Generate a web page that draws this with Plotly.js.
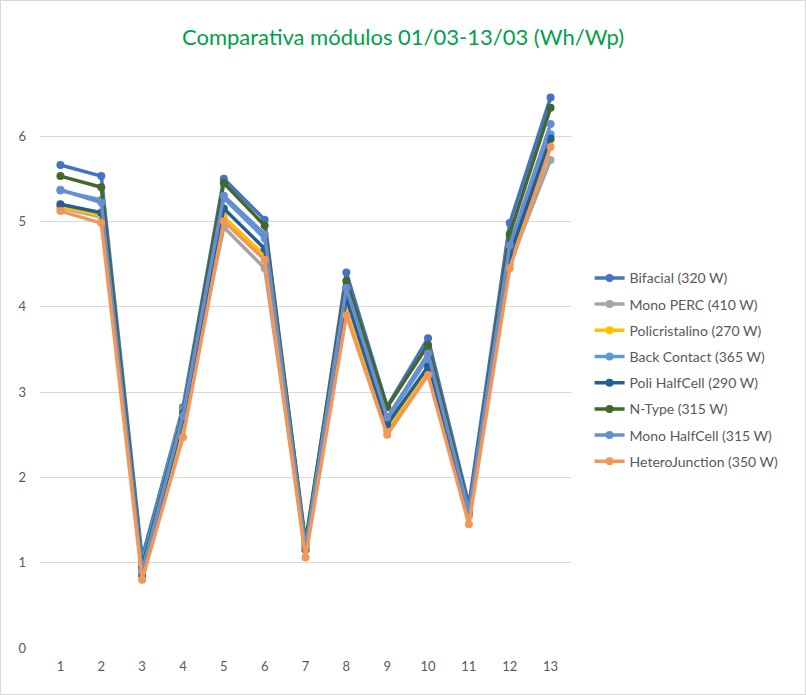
<!DOCTYPE html>
<html><head><meta charset="utf-8">
<script src="https://cdn.plot.ly/plotly-3.0.1.min.js"></script>
<style>body{margin:0;background:#fff}#wrap{position:relative;width:806px;height:695px}#chart{width:806px;height:695px}#frame{position:absolute;left:0;top:0;width:804px;height:693px;border:1px solid #d9d9d9;pointer-events:none}</style>
</head><body><div id="wrap"><div id="chart"></div><div id="frame"></div></div>
<script>
const days = [1,2,3,4,5,6,7,8,9,10,11,12,13];
const names = ["Bifacial (320 W)","Mono PERC (410 W)","Policristalino (270 W)","Back Contact (365 W)","Poli HalfCell (290 W)","N-Type (315 W)","Mono HalfCell (315 W)","HeteroJunction (350 W)"];
const bifacial      = [5.66,5.53,1.06,2.82,5.50,5.02,1.20,4.40,2.83,3.63,1.68,4.98,6.45];
const monoPerc      = [5.16,5.05,0.95,2.65,4.93,4.45,1.15,3.92,2.55,3.25,1.55,4.50,5.72];
const policristal   = [5.17,5.07,0.90,2.62,5.05,4.60,1.15,3.95,2.58,3.25,1.55,4.55,5.95];
const backContact   = [5.36,5.25,1.00,2.80,5.27,4.80,1.22,4.18,2.68,3.40,1.60,4.65,6.02];
const poliHalfCell  = [5.20,5.10,0.85,2.68,5.15,4.68,1.15,4.10,2.62,3.30,1.58,4.60,5.97];
const nType         = [5.53,5.40,0.95,2.75,5.45,4.95,1.25,4.30,2.82,3.55,1.62,4.85,6.33];
const monoHalfCell  = [5.37,5.22,0.90,2.72,5.30,4.85,1.18,4.22,2.70,3.45,1.60,4.72,6.14];
const heteroJunc    = [5.12,4.98,0.80,2.47,5.00,4.55,1.06,3.90,2.50,3.20,1.45,4.45,5.87];
const series = [bifacial,monoPerc,policristal,backContact,poliHalfCell,nType,monoHalfCell,heteroJunc];
const colors = ["#4472C4","#A5A5A5","#FFC000","#5B9BD5","#255E91","#43682B","#698ED0","#F1975A"];
const yTicks = [0,1,2,3,4,5,6];

const traces = series.map((s,i)=>({
  x: days, y: s, name: names[i], type:'scatter', mode:'lines+markers',
  line:{color:colors[i], width:3.5}, marker:{color:colors[i], size:8},
  legendgroup:'g'+i
}));

const layout = {
  width:806, height:695,
  paper_bgcolor:'#fff', plot_bgcolor:'#fff',
  margin:{l:40,r:235,t:68,b:47},
  font:{family:'Lato, "Open Sans", sans-serif', color:'#595959', size:13},
  title:{text:'Comparativa módulos 01/03-13/03 (Wh/Wp)', font:{family:'Lato, sans-serif', size:22, color:'#00A04A'}, x:0.5, xanchor:'center', xref:'container', y:37, yref:'container', yanchor:'middle'},
  xaxis:{range:[0.5,13.5], tickvals:days, ticktext:days.map(String), showgrid:false, zeroline:false, showline:false, ticks:'', tickfont:{size:13,color:'#595959'}, ticklabelstandoff:9},
  yaxis:{range:[0,6.797], tickvals:yTicks, showgrid:true, gridcolor:'#d9d9d9', gridwidth:1, zeroline:false, ticks:'', tickfont:{size:13,color:'#595959'}, ticklabelstandoff:13},
  legend:{x:1.035, y:0.665, xanchor:'left', yanchor:'top', font:{size:14,color:'#595959'}, tracegroupgap:5, itemwidth:30, bgcolor:'rgba(0,0,0,0)'},
  showlegend:true
};
layout.title.y = 1 - 37/695;
Plotly.newPlot('chart', traces, layout, {displayModeBar:false});
</script></body></html>
